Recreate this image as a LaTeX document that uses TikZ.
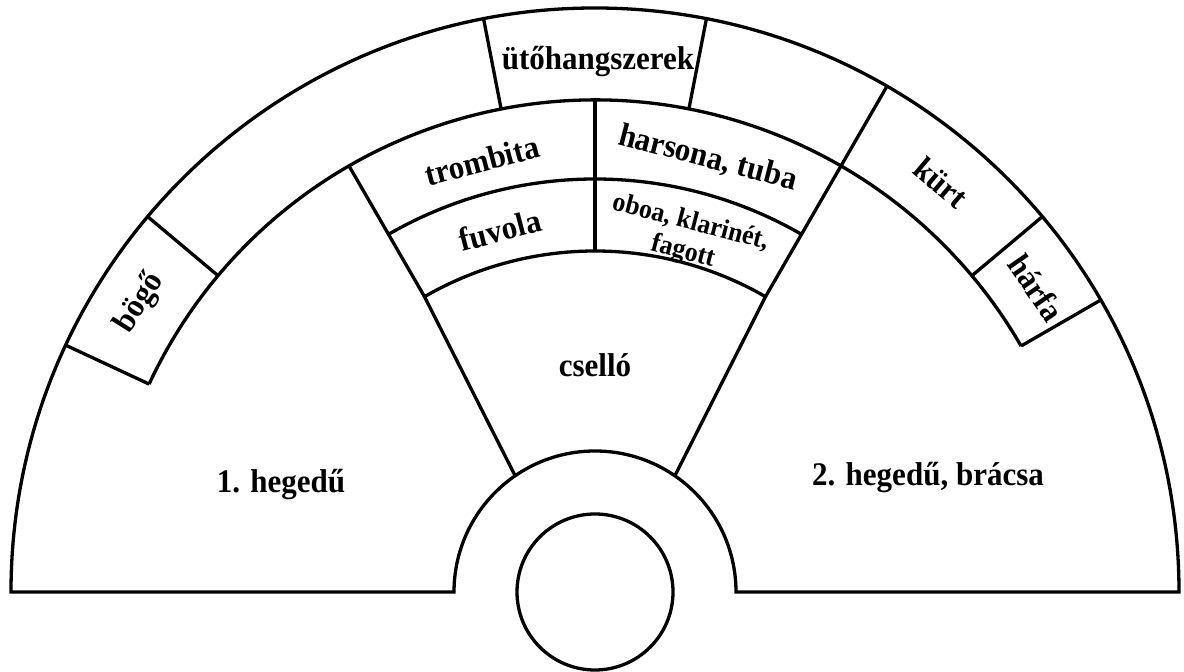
\documentclass[tikz,border=0pt]{standalone}
\usepackage{fontspec}
\setmainfont{Liberation Serif}
\newfontfamily\lblfont{Liberation Serif}[FakeStretch=0.94]
\begin{document}
\begin{tikzpicture}[x=1pt,y=1pt,line width=3.3pt,
  lbl/.style={font=\lblfont\bfseries\fontsize{33}{36}\selectfont,inner sep=0pt},
  smalllbl/.style={font=\lblfont\bfseries\fontsize{27.5}{30}\selectfont,inner sep=0pt,align=center}]
\useasboundingbox (0,0) rectangle (1184,672);
\coordinate (C) at (595,80);
% outer outline: big semicircle, base, small semicircle
\draw ([shift={(180:584pt)}]C) arc[start angle=180,end angle=0,radius=584pt]
  -- ([shift={(0:141pt)}]C) arc[start angle=0,end angle=180,radius=141pt] -- cycle;
% inner boundary of the outer ring
\draw ([shift={(155:492pt)}]C) arc[start angle=155,end angle=30,radius=492pt];
% radial separators in the outer ring
\foreach \a in {155,140,101,79,40,30}
  \draw ([shift={(\a:492pt)}]C) -- ([shift={(\a:584pt)}]C);
% central wedge
\draw ([shift={(120:492pt)}]C) -- ([shift={(120:341pt)}]C) -- ([shift={(124.5:141pt)}]C);
\draw ([shift={(60:584pt)}]C) -- ([shift={(60:341pt)}]C) -- ([shift={(55.5:141pt)}]C);
\draw ([shift={(120:413pt)}]C) arc[start angle=120,end angle=60,radius=413pt];
\draw ([shift={(120:341pt)}]C) arc[start angle=120,end angle=60,radius=341pt];
\draw ([shift={(90:492pt)}]C) -- ([shift={(90:341pt)}]C);
% conductor circle
\draw (C) circle[radius=78pt];
% labels
\node[lbl] (uto) at (598,610) {ütőhangszerek};
\node[lbl,rotate=14.7] (trombita) at ([shift={(104.7:446pt)}]C) {trombita};
\node[lbl,rotate=-14.6] (harsona) at ([shift={(75.4:448pt)}]C) {harsona, tuba};
\node[lbl,rotate=14.7] (fuvola) at ([shift={(104.7:374pt)}]C) {fuvola};
\node[smalllbl,rotate=-14.5] (oboa) at ([shift={(75.5:366pt)}]C) {oboa, klarinét,\\fagott};
\node[lbl,rotate=-40.2] (kurt) at ([shift={(49.8:536pt)}]C) {kürt};
\node[lbl,rotate=-55.4] (harfa) at ([shift={(34.6:536pt)}]C) {hárfa};
\node[lbl,rotate=57.6] (bogo) at ([shift={(147.6:539pt)}]C) {bögő};
\node[lbl] (csello) at (595,307) {cselló};
\node[lbl] (heg1) at (281,187) {1. hegedű};
\node[lbl] (heg2) at (928,194) {2. hegedű, brácsa};
\end{tikzpicture}
\end{document}
